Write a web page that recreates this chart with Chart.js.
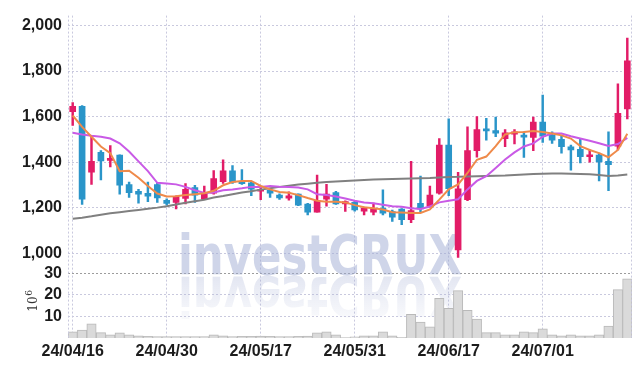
<!DOCTYPE html>
<html><head><meta charset="utf-8">
<script src="https://cdn.jsdelivr.net/npm/chart.js@4.4.1/dist/chart.umd.min.js"></script>
<style>html,body{margin:0;padding:0;background:#fff}#wrap{width:642px;height:366px;position:relative}</style>
</head><body><div id="wrap"><canvas id="c" width="642" height="366"></canvas></div>
<script>
const dates = ['24/04/16','24/04/17','24/04/18','24/04/19','24/04/22','24/04/23','24/04/24','24/04/25','24/04/26','24/04/29',
 '24/04/30','24/05/02','24/05/03','24/05/07','24/05/08','24/05/09','24/05/10','24/05/13','24/05/14','24/05/16',
 '24/05/17','24/05/20','24/05/21','24/05/22','24/05/23','24/05/24','24/05/27','24/05/28','24/05/29','24/05/30',
 '24/05/31','24/06/03','24/06/04','24/06/05','24/06/07','24/06/10','24/06/11','24/06/12','24/06/13','24/06/14',
 '24/06/17','24/06/18','24/06/19','24/06/20','24/06/21','24/06/24','24/06/25','24/06/26','24/06/27','24/06/28',
 '24/07/01','24/07/02','24/07/03','24/07/04','24/07/05','24/07/08','24/07/09','24/07/10','24/07/11','24/07/12'];

const openP  = [1622,1645,1356,1444,1408,1431,1302,1272,1264,1302,1233,1224,1241,1289,1238,1264,1315,1362,1316,1310,
 1273,1277,1256,1243,1260,1217,1181,1238,1267,1217,1224,1185,1181,1198,1184,1195,1148,1220,1207,1264,
 1475,1016,1236,1451,1547,1539,1503,1523,1517,1509,1576,1518,1500,1468,1457,1424,1431,1404,1471,1634];
const highP  = [1662,1648,1512,1451,1473,1433,1313,1281,1313,1310,1240,1253,1306,1299,1296,1363,1411,1385,1368,1313,
 1296,1284,1261,1270,1262,1220,1344,1303,1272,1231,1230,1203,1221,1279,1190,1197,1404,1339,1296,1504,
 1590,1356,1555,1600,1593,1598,1543,1543,1533,1598,1695,1533,1514,1475,1504,1454,1440,1533,1744,1945];
const lowP   = [1562,1215,1303,1322,1379,1260,1246,1221,1227,1224,1212,1195,1217,1224,1236,1260,1307,1307,1303,1253,
 1236,1246,1237,1234,1210,1169,1181,1207,1215,1184,1186,1169,1169,1169,1141,1126,1135,1181,1203,1260,
 1253,983,1231,1422,1497,1512,1468,1480,1421,1451,1487,1483,1440,1365,1397,1400,1318,1275,1454,1590];
const closeP = [1645,1238,1404,1406,1412,1299,1267,1260,1251,1244,1220,1249,1281,1256,1264,1328,1362,1313,1306,1282,
 1277,1264,1244,1253,1212,1181,1231,1260,1217,1227,1191,1198,1198,1177,1159,1148,1188,1195,1256,1475,
 1284,1284,1451,1543,1537,1527,1529,1533,1510,1576,1514,1497,1468,1454,1425,1431,1402,1389,1615,1845];

const maShort = [1605,1555,1512,1469,1440,1361,1363,1332,1296,1263,1250,1251,1256,1260,1264,1275,1299,1313,1318,1318,
 1296,1281,1270,1266,1256,1243,1231,1227,1227,1224,1212,1203,1198,1193,1181,1180,1178,1178,1193,1236,
 1281,1303,1353,1411,1425,1471,1522,1532,1533,1537,1533,1526,1518,1504,1471,1454,1440,1422,1454,1525];
const maMid = [1529,1522,1516,1512,1504,1483,1447,1404,1361,1310,1307,1303,1292,1277,1265,1267,1277,1281,1286,1292,
 1292,1296,1293,1291,1289,1281,1260,1256,1250,1241,1231,1224,1220,1214,1207,1205,1198,1195,1206,1224,
 1231,1238,1281,1318,1339,1375,1412,1443,1469,1483,1512,1526,1526,1514,1504,1494,1483,1471,1480,1507];
const maLong = [1152,1157,1163,1170,1176,1181,1186,1191,1196,1201,1207,1215,1222,1229,1236,1245,1252,1260,1267,1273,
 1280,1286,1292,1297,1302,1306,1310,1313,1316,1318,1320,1322,1324,1326,1327,1328,1329,1330,1331,1333,
 1335,1336,1338,1339,1340,1341,1342,1344,1346,1348,1350,1351,1351,1350,1349,1347,1344,1340,1342,1346];

const volume = [2.8,3.7,6.5,2.5,1.5,2.4,1.5,1.0,0.8,0.7,0.6,0.6,0.6,0.7,0.6,1.5,1.0,0.6,0.8,0.8,
 0.9,0.8,0.6,0.6,0.8,0.9,2.4,2.8,1.45,0.2,0.5,1.0,1.0,2.8,1.0,0.3,11.0,7.4,5.2,18.3,
 13.7,21.9,12.8,8.7,2.5,2.5,1.5,1.5,2.8,2.5,4.2,1.5,1.0,1.5,1.0,1.0,1.5,5.5,22.4,27.4];

const priceTicks = [1000,1200,1400,1600,1800,2000];
const volumeTicks = [10,20,30];
const labelEvery = 10;

const UP = '#e21c67', DOWN = '#2a95c9';
const GRID = '#c9c9de';
const candleColors = closeP.map((c,i)=> c >= openP[i] ? UP : DOWN);

Chart.defaults.font.family = '"Liberation Sans Narrow","Liberation Sans",sans-serif';
Chart.defaults.font.size = 16;
Chart.defaults.font.weight = 'bold';
Chart.defaults.color = '#1c1c1c';

const watermark = {
  id:'watermark',
  beforeDatasetsDraw(chart){
    const {ctx, chartArea:a} = chart;
    ctx.save();
    ctx.beginPath(); ctx.rect(a.left,a.top,a.right-a.left,a.bottom-a.top); ctx.clip();
    const text = 'investCRUX';
    ctx.font = 'bold 56px "DejaVu Sans"';
    const w = ctx.measureText(text).width;
    const sx = 284 / w;
    ctx.textAlign = 'center'; ctx.textBaseline = 'alphabetic';
    ctx.save();
    ctx.translate(320, 274); ctx.scale(sx,1);
    ctx.fillStyle = 'rgba(160,172,212,0.5)';
    ctx.fillText(text,0,0);
    ctx.restore();
    ctx.save();
    ctx.translate(320, 277); ctx.scale(sx,-1);
    const g = ctx.createLinearGradient(0,0,0,-46);
    g.addColorStop(0,'rgba(170,180,215,0.32)');
    g.addColorStop(1,'rgba(170,180,215,0.05)');
    ctx.fillStyle = g;
    ctx.fillText(text,0,0);
    ctx.restore();
    ctx.restore();
  },
  afterDraw(chart){
    const {ctx, chartArea:a} = chart;
    ctx.save();
    ctx.strokeStyle = GRID; ctx.lineWidth = 1; ctx.setLineDash([2,2]);
    ctx.beginPath();
    ctx.moveTo(a.left+0.5, a.top); ctx.lineTo(a.left+0.5, a.bottom);
    ctx.moveTo(a.right-0.5, a.top); ctx.lineTo(a.right-0.5, a.bottom);
    ctx.stroke();
    ctx.setLineDash([]);
    ctx.translate(33.5, 304); ctx.rotate(-Math.PI/2);
    ctx.fillStyle = '#333'; ctx.textBaseline = 'middle'; ctx.textAlign = 'left';
    ctx.font = '12px "DejaVu Serif"';
    const w1 = ctx.measureText('10').width;
    ctx.fillText('10', -w1/2, 0);
    ctx.font = '9px "DejaVu Serif"';
    ctx.fillText('6', w1/2 + 0.5, -4);
    ctx.restore();
  }
};

new Chart(document.getElementById('c'), {
  type:'bar',
  data:{
    labels: dates,
    datasets:[
      {type:'line', label:'MA short', data:maShort, yAxisID:'y', borderColor:'#ef8a4a', borderWidth:2, pointRadius:0, tension:0, order:1},
      {type:'line', label:'MA mid', data:maMid, yAxisID:'y', borderColor:'#c95ae6', borderWidth:2, pointRadius:0, tension:0, order:2},
      {type:'line', label:'MA long', data:maLong, yAxisID:'y', borderColor:'#808080', borderWidth:2, pointRadius:0, tension:0, order:3},
      {label:'body', data: openP.map((o,i)=>[Math.min(o,closeP[i]), Math.max(o,closeP[i])]), yAxisID:'y',
        backgroundColor:candleColors, barThickness:6, minBarLength:2, grouped:false, order:4},
      {label:'wick', data: lowP.map((l,i)=>[l, highP[i]]), yAxisID:'y',
        backgroundColor:candleColors, barThickness:1.8, grouped:false, order:5},
      {label:'volume', data: volume, yAxisID:'v', backgroundColor:'#dadada', borderColor:'#b9b9b9', borderWidth:1,
        barPercentage:1, categoryPercentage:1, grouped:false, order:10}
    ]
  },
  options:{
    responsive:false, animation:false, devicePixelRatio:1,
    layout:{padding:{top:10,right:10,left:0,bottom:0}},
    plugins:{legend:{display:false}, tooltip:{enabled:false}},
    scales:{
      x:{
        type:'category', offset:true,
        grid:{offset:false, drawTicks:false, color:(c)=> (c.index % labelEvery === 0 ? GRID : 'rgba(0,0,0,0)')},
        border:{display:false, dash:[2,2]},
        ticks:{autoSkip:false, maxRotation:0, minRotation:0, padding:4,
          callback:(v,i)=> (i % labelEvery === 0 ? dates[i] : '')},
        afterFit:(s)=>{ s.height = 28; }
      },
      y:{
        type:'linear', position:'left', stack:'main', stackWeight:262, weight:1,
        min:913.8, max:2043.1,
        afterBuildTicks:(s)=>{ s.ticks = priceTicks.map(v=>({value:v})); },
        grid:{drawTicks:false, color:GRID},
        border:{display:false, dash:[2,2]},
        ticks:{padding:6, autoSkip:false, callback:(v)=> v.toLocaleString('en-US')},
        afterFit:(s)=>{ s.width = 68; }
      },
      v:{
        type:'linear', position:'left', stack:'main', stackWeight:66, weight:0,
        min:0, max:30, offset:false,
        afterBuildTicks:(s)=>{ s.ticks = volumeTicks.map(v=>({value:v})); },
        grid:{drawTicks:false, color:(c)=> (c.tick && c.tick.value === 30 ? '#9c9c9c' : GRID)},
        border:{display:false, dash:[2,2]},
        ticks:{padding:6, autoSkip:false},
        afterFit:(s)=>{ s.width = 68; }
      }
    }
  },
  plugins:[watermark]
});
</script>
</body></html>
